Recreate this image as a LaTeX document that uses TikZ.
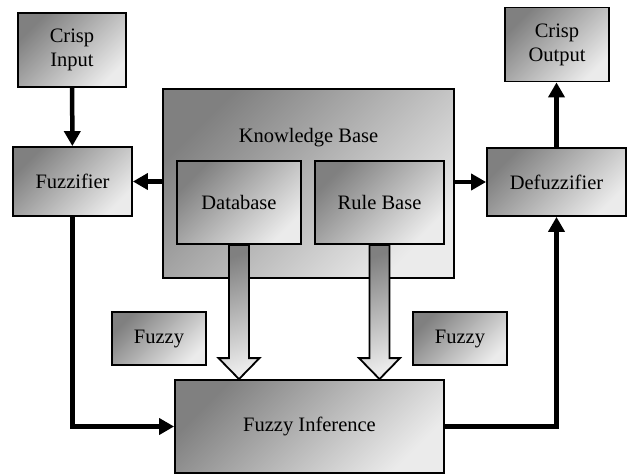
\documentclass[tikz,border=0pt]{standalone}
\usepackage{fontspec}
\setmainfont{Liberation Serif}
\usetikzlibrary{calc,arrows.meta}
\definecolor{shdark}{gray}{0.5}
\definecolor{shlight}{gray}{0.92}
\tikzset{
  blk/.style 2 args={draw=black, line width=1.8pt, top color=shdark,
    bottom color=shlight, shading angle=45, minimum width=#1,
    minimum height=#2, inner sep=0pt, align=center,
    font=\fontsize{20.5}{24}\selectfont},
  conn/.style={line width=4.5pt, -{Triangle[width=16pt,length=15pt]}},
  hollow/.style={draw=black, line width=1.8pt, line join=miter,
    left color=shdark, right color=shlight, shading angle=20}
}
\begin{document}
\begin{tikzpicture}[x=1pt,y=-1pt]
\useasboundingbox (0,0) rectangle (627,474);

% knowledge base with its two parts
\node[blk={291pt}{189pt}] (kb) at (308.5,183.5) {};
\node[font=\fontsize{20.5}{24}\selectfont] (kbtext) at (308.5,138) {Knowledge Base};
\node[blk={124pt}{83pt}] (db) at (239,202.5) {Database};
\node[blk={129pt}{83pt}] (rb) at (379.5,202.5) {Rule Base};

% crisp side
\node[blk={108pt}{74pt}] (cin) at (72,50) {Crisp\\Input};
\node[blk={119pt}{69pt}] (fuzz) at (72.5,181.5) {Fuzzifier};
\node[blk={104pt}{74pt}] (cout) at (557,44.5) {Crisp\\Output};
\node[blk={139pt}{68pt}] (defuzz) at (556.5,182) {Defuzzifier};

% fuzzy side
\node[blk={94pt}{53pt}] (fzl) at (159,338.5) {Fuzzy};
\node[blk={94pt}{53pt}] (fzr) at (460,338.5) {Fuzzy};
\node[blk={269pt}{93pt}] (inf) at (309.5,426.5) {Fuzzy Inference};

% big hollow arrows into the inference
\shade[hollow] ($(db.south)+(-10,0)$) -- ($(db.south |- inf.north)+(-10,-21)$)
  -- ($(db.south |- inf.north)+(-20.5,-21)$) -- (db.south |- inf.north)
  -- ($(db.south |- inf.north)+(20.5,-21)$) -- ($(db.south |- inf.north)+(10,-21)$)
  -- ($(db.south)+(10,0)$) -- cycle;
\shade[hollow] ($(rb.south)+(-10,0)$) -- ($(rb.south |- inf.north)+(-10,-21)$)
  -- ($(rb.south |- inf.north)+(-20.5,-21)$) -- (rb.south |- inf.north)
  -- ($(rb.south |- inf.north)+(20.5,-21)$) -- ($(rb.south |- inf.north)+(10,-21)$)
  -- ($(rb.south)+(10,0)$) -- cycle;

% connectors
\draw[conn] (cin) -- (fuzz);
\draw[conn] (kb.west |- fuzz) -- (fuzz);
\draw[conn] (kb.east |- defuzz) -- (defuzz);
\draw[conn] (defuzz.north) -- (defuzz.north |- cout.south);
\draw[conn] (fuzz) |- (inf);
\draw[conn] (inf) -| (defuzz);
\end{tikzpicture}
\end{document}
